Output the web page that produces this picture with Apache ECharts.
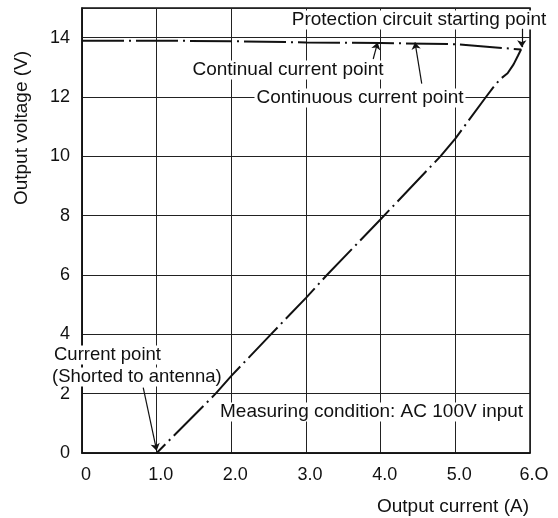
<!DOCTYPE html>
<html>
<head>
<meta charset="utf-8">
<script src="https://cdn.jsdelivr.net/npm/echarts@6/dist/echarts.min.js"></script>
<style>
  html, body { margin: 0; padding: 0; background: #fff; }
  #chart { width: 558px; height: 518px; }
</style>
</head>
<body>
<div id="chart"></div>
<script>
// Output characteristic: output voltage versus output current
const currentA = [0, 1, 2, 3, 4, 5, 5.5, 5.88, 5.84, 5.78, 5.7, 5.6, 5.5, 5.41, 5.0, 4.8, 4.0, 3.28, 3.0, 2.53, 2.0, 1.79, 1.0];
const voltageV = [13.9, 13.9, 13.88, 13.84, 13.82, 13.78, 13.68, 13.6, 13.4, 13.1, 12.8, 12.6, 12.3, 12.0, 10.6, 10.0, 7.88, 6.0, 5.23, 4.0, 2.6, 2.0, 0];

const xTickValues = [0, 1, 2, 3, 4, 5, 6];
const xTickLabels = ['0', '1.0', '2.0', '3.0', '4.0', '5.0', '6.O'];
const yTickValues = [0, 2, 4, 6, 8, 10, 12, 14];
const yTickLabels = ['0', '2', '4', '6', '8', '10', '12', '14'];

const xAxisTitle = 'Output current (A)';
const yAxisTitle = 'Output voltage (V)';

// Callout texts and the points they refer to ([from], [to] in data units)
const protectionText = 'Protection circuit starting point';
const protectionArrow = [[5.89, 14.3], [5.89, 13.68]];
const continualText = 'Continual current point';
const continualArrow = [[3.90, 13.28], [3.96, 13.84]];
const continuousText = 'Continuous current point';
const continuousArrow = [[4.55, 12.45], [4.46, 13.84]];
const shortedText1 = 'Current point';
const shortedText2 = '(Shorted to antenna)';
const shortedArrow = [[0.82, 2.2], [1.0, 0.08]];
const conditionText = 'Measuring condition: AC 100V input';

const FONT = '"Liberation Sans", Arial, Helvetica, sans-serif';
const INK = '#111';

const chart = echarts.init(document.getElementById('chart'), null, { renderer: 'canvas' });

// Callouts sit above the grid lines (z 0) but below the curve (z 5)
function callout(text, x, y, align, size) {
  return {
    type: 'text',
    x: x, y: y, z: 1,
    style: {
      text: text,
      font: (size || 19) + 'px ' + FONT,
      fill: INK,
      align: align || 'center', textAlign: align || 'center',
      verticalAlign: 'middle', textVerticalAlign: 'middle',
      backgroundColor: '#fff',
      padding: [0, 2, 0, 2]
    }
  };
}

function arrowPair(p) {
  return [{ coord: p[0] }, { coord: p[1] }];
}

const option = {
  animation: false,
  backgroundColor: '#fff',
  grid: {
    left: 82, right: 28, top: 8, bottom: 65,
    show: true, borderColor: INK, borderWidth: 1.5, backgroundColor: 'transparent'
  },
  xAxis: {
    type: 'value', min: 0, max: 6, interval: 1,
    axisLine: { show: true, lineStyle: { color: INK, width: 1.5 } },
    axisTick: { show: false },
    splitLine: { show: true, lineStyle: { color: '#222', width: 1 } },
    axisLabel: {
      margin: 13,
      color: INK, fontFamily: FONT, fontSize: 18,
      padding: [0, 0, 0, 8],
      formatter: function (v) {
        const i = xTickValues.indexOf(v);
        return i >= 0 ? xTickLabels[i] : '';
      }
    }
  },
  yAxis: {
    type: 'value', min: 0, max: 15, interval: 2,
    axisLine: { show: true, lineStyle: { color: INK, width: 1.5 } },
    axisTick: { show: false },
    splitLine: { show: true, lineStyle: { color: '#222', width: 1 } },
    axisLabel: {
      margin: 12,
      color: INK, fontFamily: FONT, fontSize: 18,
      formatter: function (v) {
        const i = yTickValues.indexOf(v);
        return i >= 0 ? yTickLabels[i] : '';
      }
    }
  },
  series: [{
    type: 'line',
    data: currentA.map((x, i) => [x, voltageV[i]]),
    showSymbol: false,
    symbol: 'none',
    smooth: false,
    lineStyle: { color: INK, width: 2, type: [42, 5, 2, 5] },
    z: 5,
    markLine: {
      silent: true,
      symbol: ['none', 'arrow'],
      symbolSize: 7,
      label: { show: false },
      lineStyle: { color: INK, width: 1.2, type: 'solid' },
      data: [
        arrowPair(protectionArrow),
        arrowPair(continualArrow),
        arrowPair(continuousArrow),
        arrowPair(shortedArrow)
      ]
    }
  }],
  graphic: [
    callout(protectionText, 419, 20),
    callout(continualText, 288, 70),
    callout(continuousText, 360, 98),
    callout(shortedText1, 52, 355, 'left', 18.5),
    callout(shortedText2, 50, 377, 'left', 18.5),
    callout(conditionText, 218, 412, 'left'),
    {
      type: 'text', x: 529, y: 507, z: 1,
      style: {
        text: xAxisTitle, font: '19px ' + FONT, fill: INK,
        align: 'right', textAlign: 'right', verticalAlign: 'middle', textVerticalAlign: 'middle'
      }
    },
    {
      type: 'text', x: 22, y: 128, rotation: Math.PI / 2, z: 1,
      style: {
        text: yAxisTitle, font: '19px ' + FONT, fill: INK,
        align: 'center', textAlign: 'center', verticalAlign: 'middle', textVerticalAlign: 'middle'
      }
    }
  ]
};

chart.setOption(option);
</script>
</body>
</html>
